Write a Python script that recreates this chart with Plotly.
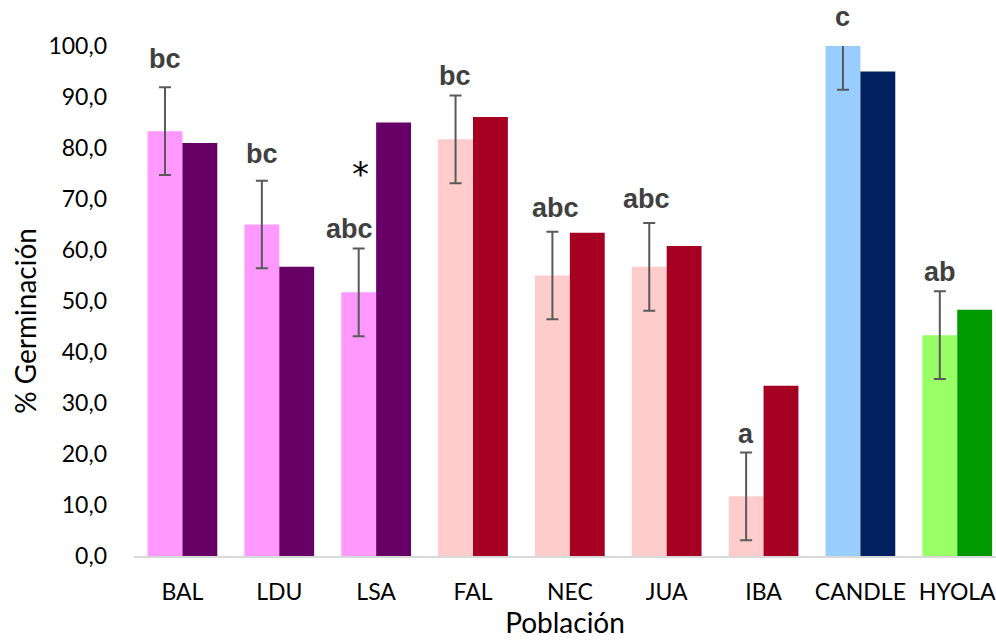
import plotly.graph_objects as go

# Germination (%) per population: two assays per population
poblaciones = ["BAL", "LDU", "LSA", "FAL", "NEC", "JUA", "IBA", "CANDLE", "HYOLA"]
germ_a = [83.3, 65.0, 51.7, 81.7, 55.0, 56.7, 11.7, 100.0, 43.3]
germ_b = [81.0, 56.7, 85.0, 86.1, 63.4, 60.8, 33.4, 95.0, 48.3]
error_a = [8.6, 8.6, 8.6, 8.6, 8.6, 8.6, 8.6, 8.6, 8.6]
letras = ["bc", "bc", "abc", "bc", "abc", "abc", "a", "c", "ab"]

# Colours per population (light = first assay, dark = second)
color_a = ["#FF99FF", "#FF99FF", "#FF99FF", "#FFCCCC", "#FFCCCC", "#FFCCCC",
           "#FFCCCC", "#99CCFF", "#99FF66"]
color_b = ["#660066", "#660066", "#660066", "#A50021", "#A50021", "#A50021",
           "#A50021", "#002060", "#009900"]

# Pixel offsets for the significance letters above each error bar
letra_lift = [11, 10, 2, 2, 7, 7, 1, 12, 2]
letra_dx = [0, 0, -9, 0, 3, -3, 0, 0, 0]

Y_MAX = 100

fig = go.Figure()
fig.add_trace(go.Bar(
    x=poblaciones, y=germ_a,
    marker=dict(color=color_a, line=dict(width=0)),
    error_y=dict(type="data", array=error_a, visible=True,
                 color="#595959", thickness=2, width=6),
    hoverinfo="x+y",
))
fig.add_trace(go.Bar(
    x=poblaciones, y=germ_b,
    marker=dict(color=color_b, line=dict(width=0)),
    hoverinfo="x+y",
))

annotations = []
for i, (p, v, e, t) in enumerate(zip(poblaciones, germ_a, error_a, letras)):
    annotations.append(dict(
        x=p, y=min(v + e, Y_MAX), xref="x", yref="y",
        text=t, showarrow=False, yanchor="bottom", xanchor="center",
        yshift=letra_lift[i], xshift=letra_dx[i] - 17.5,
        font=dict(family="Liberation Sans", size=27, color="#404040",
                  weight="bold"),
    ))

# Asterisk marking the LSA second assay
annotations.append(dict(
    x="LSA", y=75, xref="x", yref="y", text="*", showarrow=False,
    xanchor="center", yanchor="middle", xshift=-16,
    font=dict(family="DejaVu Sans", size=34, color="#000000"),
))

# Vertical axis title
annotations.append(dict(
    x=-0.1265, y=0.461, xref="paper", yref="paper",
    text="% Germinación", textangle=-90, showarrow=False,
    xanchor="center", yanchor="middle",
    font=dict(family="Lato", size=28, color="#000000"),
))

fig.update_layout(
    width=996, height=641,
    margin=dict(l=134, r=0, t=46, b=85),
    paper_bgcolor="white", plot_bgcolor="white",
    barmode="group", bargap=0.28, bargroupgap=0,
    showlegend=False,
    separators=",.",
    font=dict(family="Lato", size=23, color="#000000"),
    annotations=annotations,
    xaxis=dict(
        range=[-0.5, 8.4], showgrid=False, zeroline=False,
        showline=True, linecolor="#D9D9D9", linewidth=2,
        ticks="", ticklabelstandoff=14,
        tickfont=dict(family="Lato", size=23, color="#000000"),
        title=dict(text="Población", standoff=10,
                   font=dict(family="Lato", size=28, color="#000000")),
    ),
    yaxis=dict(
        range=[0, Y_MAX], dtick=10, tickformat=".1f",
        showgrid=False, zeroline=False, showline=False,
        ticks="", ticklabelstandoff=26,
        tickfont=dict(family="Lato", size=23, color="#000000"),
    ),
)

fig.write_html("out.html")
